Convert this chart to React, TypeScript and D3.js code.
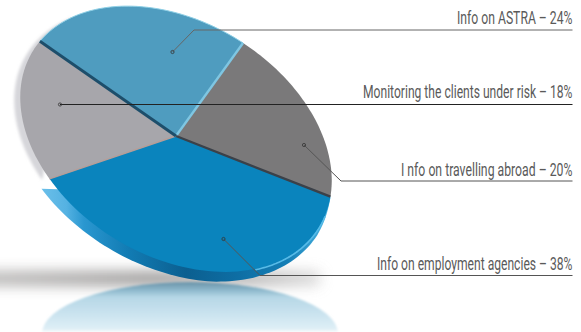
import React, { useLayoutEffect, useRef } from "react";
import * as d3 from "d3";

const categories = [
  "I nfo on travelling abroad",
  "Info on employment agencies",
  "Monitoring the clients under risk",
  "Info on ASTRA",
];
const shares = [20, 38, 18, 24];
const sliceColors = ["#7a797a", "#0a84bd", "#a7a6ab", "#4f9cbf"];
// Separator drawn along the leading edge of each slice.
const edgeColors = ["#7fc6e2", "#3b4149", "#b59d98", "#1d4e6b"];
const edgeWidths = [2.4, 2.4, 1.4, 2.8];

// Where each label sits, and how its leader runs out from the slice.
const labelBaselines = [176, 270, 98, 24];
const labelLefts = [401, 377, 363, 457];
const leaderRuleY = [181, 275.5, 104.5, 30];
const leaderElbowX = [341, 260, 60, 194];
const leaderDotX = [304, 223.5, 60, 172.5];
const leaderDotY = [145, 239, 104.5, 52];
const leaderColors = ["#555", "#555", "#222", "#666"];

const RIGHT = 572.5;
const disc = { cx: 176, cy: 139, a: 168, b: 117, tilt: (31.5 * Math.PI) / 180 };
const apex: [number, number] = [176, 136];
const START = (2.4 * Math.PI) / 180;
const deg = (v: number) => (v * Math.PI) / 180;

// Projects a point of the unit circle (d3 angle, 0 at 12 o'clock) onto the tilted disc.
function onDisc(angle: number, dx = 0, dy = 0): [number, number] {
  const x = disc.a * Math.sin(angle);
  const y = -disc.b * Math.cos(angle);
  const c = Math.cos(disc.tilt);
  const s = Math.sin(disc.tilt);
  return [disc.cx + dx + x * c - y * s, disc.cy + dy + x * s + y * c];
}

const line = d3.line<[number, number]>();
const curve = d3.line<[number, number]>().curve(d3.curveCatmullRom);

function sweep(a0: number, a1: number, dx = 0, dy = 0) {
  const steps = 60;
  const at = d3.scaleLinear().domain([0, steps]).range([a0, a1]);
  return d3.range(steps + 1).map((i) => onDisc(at(i), dx, dy));
}

// Lower edge of the disc's side wall: it grows out of the right end and is widest at the left.
const wallDx = d3.scaleLinear().domain([0, 0.5, 1]).range([0, -2, -8]);
const wallDy = d3.scaleLinear().domain([0, 0.12, 0.5, 1]).range([1, 6, 10, 10]);

function wallEdge(a0: number, a1: number) {
  const steps = 80;
  return d3.range(steps + 1).map((i) => {
    const t = i / steps;
    return onDisc(a0 + (a1 - a0) * t, wallDx(t), wallDy(t));
  });
}

// Text squeezed horizontally to a condensed look, fitted between left and RIGHT.
function Label({ x, y, text }: { x: number; y: number; text: string }) {
  const ref = useRef<SVGTextElement>(null);
  useLayoutEffect(() => {
    const el = ref.current;
    if (!el) return;
    const k = (RIGHT - x) / el.getComputedTextLength();
    el.setAttribute("transform", `translate(${x},${y}) scale(${k},1)`);
  }, [x, y, text]);
  return (
    <text
      ref={ref}
      transform={`translate(${x},${y}) scale(0.75,1)`}
      fontFamily="Roboto, sans-serif"
      fontSize={18.5}
      fill="#5a5a5a"
    >
      {text}
    </text>
  );
}

export default function App() {
  const arcs = d3
    .pie<number>()
    .sort(null)
    .startAngle(START)
    .endAngle(START + 2 * Math.PI)(shares);

  const lower = arcs[1];

  return (
    <svg
      width={581}
      height={332}
      viewBox="0 0 581 332"
      style={{ position: "fixed", left: 0, top: 0, background: "#fff" }}
    >
      <defs>
        <filter id="soft" x="-30%" y="-300%" width="160%" height="700%">
          <feGaussianBlur stdDeviation="7" />
        </filter>
        <filter id="softer" x="-20%" y="-10%" width="140%" height="120%">
          <feGaussianBlur stdDeviation="1.5" />
        </filter>
        <filter id="mist" x="-5%" y="-5%" width="110%" height="110%">
          <feGaussianBlur stdDeviation="1" />
        </filter>
        <linearGradient id="shade" x1="0" y1="0" x2="340" y2="0" gradientUnits="userSpaceOnUse">
          <stop offset="0" stopColor="#a8a6a5" />
          <stop offset="0.45" stopColor="#858382" />
          <stop offset="0.75" stopColor="#a9a8a8" />
          <stop offset="1" stopColor="#e2e2e2" />
        </linearGradient>
        <linearGradient id="mirror" x1="0" y1="282" x2="0" y2="333" gradientUnits="userSpaceOnUse">
          <stop offset="0" stopColor="#6a93a8" />
          <stop offset="0.16" stopColor="#8db8cc" />
          <stop offset="0.3" stopColor="#b6d7e6" />
          <stop offset="0.7" stopColor="#cfe6f1" />
          <stop offset="0.92" stopColor="#dfeff6" />
          <stop offset="1" stopColor="#ffffff" />
        </linearGradient>
        <linearGradient id="rim" x1="40" y1="0" x2="332" y2="0" gradientUnits="userSpaceOnUse">
          <stop offset="0" stopColor="#6cc0ea" />
          <stop offset="0.09" stopColor="#55b2e2" />
          <stop offset="0.15" stopColor="#2a97d0" />
          <stop offset="0.3" stopColor="#127cb4" />
          <stop offset="0.5" stopColor="#0b5f90" />
          <stop offset="0.68" stopColor="#0e6ea4" />
          <stop offset="0.85" stopColor="#157fb6" />
          <stop offset="1" stopColor="#4fb8e6" />
        </linearGradient>
      </defs>

      {/* Ground shadow and the disc's reflection */}
      <rect x={-30} y={272} width={350} height={13} fill="url(#shade)" opacity={0.9} filter="url(#soft)" />
      <ellipse cx={190} cy={334} rx={148} ry={52} fill="url(#mirror)" filter="url(#mist)" />

      {/* Pale crescent behind the upper left edge */}
      <path
        d={(line(sweep(deg(212), deg(298), -6, 3)) ?? "") + "Z"}
        fill="#d6d6da"
        filter="url(#softer)"
      />

      {/* Disc thickness */}
      <path
        d={(line(wallEdge(lower.startAngle, lower.endAngle)) ?? "") + "Z"}
        fill="url(#rim)"
      />

      {/* Slices */}
      {arcs.map((d, i) => (
        <path
          key={categories[i]}
          d={(line([apex, ...sweep(d.startAngle, d.endAngle)]) ?? "") + "Z"}
          fill={sliceColors[i]}
        />
      ))}

      {/* Glints along the upper slice and the lower right of the wall */}
      <path
        d={line(sweep(arcs[3].startAngle, arcs[3].endAngle)) ?? ""}
        fill="none"
        stroke="#8fd0e6"
        strokeWidth={1}
      />
      <path
        d={curve(sweep(deg(84), deg(126), 0, 1)) ?? ""}
        fill="none"
        stroke="#56bbe8"
        strokeWidth={1.6}
        strokeLinecap="round"
      />

      {/* Separators between slices */}
      {arcs.map((d, i) => (
        <path
          key={i}
          d={line([apex, onDisc(d.startAngle)]) ?? ""}
          stroke={edgeColors[i]}
          strokeWidth={edgeWidths[i]}
          fill="none"
        />
      ))}

      {/* Labels with their leaders */}
      {categories.map((name, i) => (
        <g key={name}>
          <path
            d={
              line([
                [leaderDotX[i], leaderDotY[i]],
                [leaderElbowX[i], leaderRuleY[i]],
                [RIGHT, leaderRuleY[i]],
              ]) ?? ""
            }
            fill="none"
            stroke={leaderColors[i]}
            strokeWidth={1}
          />
          <circle
            cx={leaderDotX[i]}
            cy={leaderDotY[i]}
            r={1.6}
            fill="none"
            stroke="#333"
            strokeWidth={0.8}
          />
          <Label x={labelLefts[i]} y={labelBaselines[i]} text={`${name} – ${shares[i]}%`} />
        </g>
      ))}
    </svg>
  );
}
